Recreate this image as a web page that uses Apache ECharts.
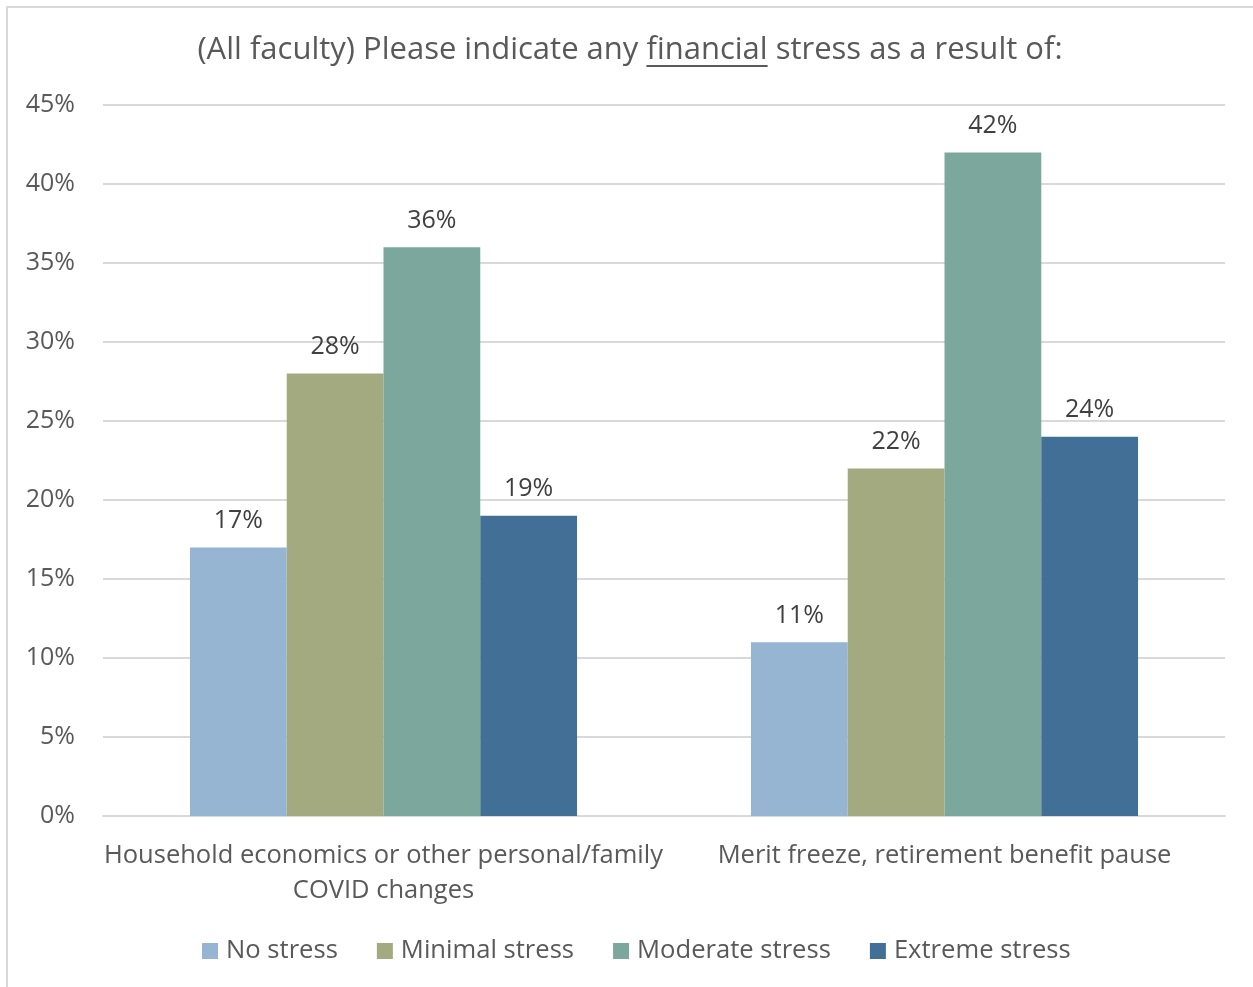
<!DOCTYPE html>
<html>
<head>
<meta charset="utf-8">
<script src="https://cdn.jsdelivr.net/npm/echarts@6/dist/echarts.min.js"></script>
<style>
  html, body { margin: 0; padding: 0; background: #fff; }
  #chart { width: 1253px; height: 987px; }
</style>
</head>
<body>
<div id="chart"></div>
<script>
// Survey answers, share of respondents per stress level
const categories = [
  'Household economics or other personal/family\nCOVID changes',
  'Merit freeze, retirement benefit pause'
];
const seriesNames = ['No stress', 'Minimal stress', 'Moderate stress', 'Extreme stress'];
const noStress = [17, 11];
const minimalStress = [28, 22];
const moderateStress = [36, 42];
const extremeStress = [19, 24];
const colors = ['#95b5d3', '#a3aa80', '#7ca79d', '#416f96'];

const FONT = '"Open Sans", sans-serif';
const chart = echarts.init(document.getElementById('chart'));

const values = [noStress, minimalStress, moderateStress, extremeStress];

// Title pieces: the word "financial" gets an underline drawn beneath it
const titleBefore = '(All faculty) Please indicate any ';
const titleUnder = 'financial';
const titleAfter = ' stress as a result of:';
const titleSize = 31;
const ctx = document.createElement('canvas').getContext('2d');
ctx.font = titleSize + 'px ' + FONT;
const wBefore = ctx.measureText(titleBefore).width;
const wUnder = ctx.measureText(titleUnder).width;
const wAll = ctx.measureText(titleBefore + titleUnder + titleAfter).width;
const titleCenter = 630;
const titleY = 50;
const underX = titleCenter - wAll / 2 + wBefore;

chart.setOption({
  backgroundColor: '#fff',
  animation: false,
  textStyle: { fontFamily: FONT },
  graphic: [
    {
      type: 'rect',
      shape: { x: 7, y: 7, width: 1300, height: 1100 },
      style: { fill: 'none', stroke: '#d9d9d9', lineWidth: 2 },
      silent: true
    },
    {
      type: 'text',
      x: titleCenter,
      y: titleY,
      style: {
        text: titleBefore + titleUnder + titleAfter,
        fill: '#595959',
        font: titleSize + 'px ' + FONT,
        textAlign: 'center',
        textVerticalAlign: 'middle'
      }
    },
    {
      type: 'rect',
      shape: { x: underX, y: titleY + 15, width: wUnder, height: 2 },
      style: { fill: '#595959' }
    }
  ],
  legend: {
    data: seriesNames,
    bottom: 18,
    left: 197,
    itemWidth: 16,
    itemHeight: 16,
    itemGap: 39,
    icon: 'rect',
    textStyle: { color: '#595959', fontSize: 25.6, fontFamily: FONT, padding: [0, 0, 0, 3] }
  },
  grid: { left: 103, right: 28, top: 105, bottom: 171, containLabel: false },
  xAxis: {
    type: 'category',
    data: categories,
    axisLine: { lineStyle: { color: '#d9d9d9', width: 2 } },
    axisTick: { show: false },
    axisLabel: {
      color: '#595959',
      fontSize: 25.5,
      lineHeight: 35,
      margin: 22,
      interval: 0
    }
  },
  yAxis: {
    type: 'value',
    min: 0,
    max: 45,
    interval: 5,
    axisLine: { show: false },
    axisTick: { show: false },
    splitLine: { lineStyle: { color: '#d9d9d9', width: 2 } },
    axisLabel: {
      color: '#595959',
      fontSize: 25,
      margin: 28,
      formatter: v => v + '%'
    }
  },
  series: seriesNames.map((name, i) => ({
    name: name,
    type: 'bar',
    data: values[i],
    barGap: '0%',
    barCategoryGap: '31%',
    itemStyle: { color: colors[i] },
    label: {
      show: true,
      position: 'top',
      distance: 14,
      color: '#404040',
      fontSize: 25,
      formatter: p => p.value + '%'
    }
  }))
});
</script>
</body>
</html>
